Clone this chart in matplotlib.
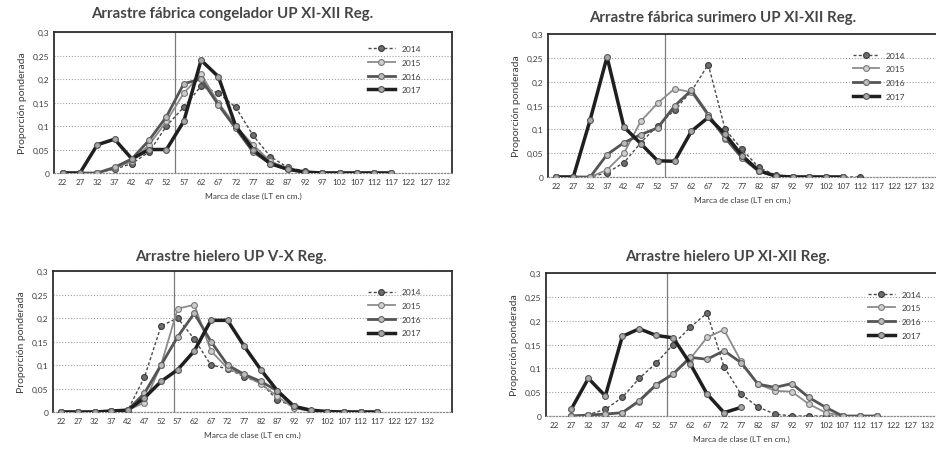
import numpy as np
import matplotlib
matplotlib.use("Agg")
import matplotlib.pyplot as plt

nan = np.nan

# class marks (LT en cm.)
marcas = [22, 27, 32, 37, 42, 47, 52, 57, 62, 67, 72, 77, 82, 87, 92, 97,
          102, 107, 112, 117, 122, 127, 132]
years = ["2014", "2015", "2016", "2017"]
y_ticks = [0, 0.05, 0.1, 0.15, 0.2, 0.25, 0.3]
y_labels = ["0", "0,05", "0,1", "0,15", "0,2", "0,25", "0,3"]

# Arrastre fabrica congelador UP XI-XII
cong_2014 = [0, 0, 0, 0.008, 0.02, 0.045, 0.1, 0.14, 0.185, 0.17, 0.14, 0.08,
             0.035, 0.012, 0.004, 0.001, 0, 0, 0, 0]
cong_2015 = [0, 0, 0, 0.01, 0.025, 0.06, 0.11, 0.17, 0.21, 0.15, 0.1, 0.06,
             0.025, 0.01, 0.003, 0.001, 0, 0, 0, 0]
cong_2016 = [0, 0, 0, 0.012, 0.03, 0.07, 0.12, 0.19, 0.2, 0.145, 0.095, 0.045,
             0.02, 0.008, 0.002, 0, 0, 0, 0, 0]
cong_2017 = [0, 0, 0.06, 0.072, 0.03, 0.05, 0.05, 0.11, 0.24, 0.205, 0.1, 0.05,
             0.02, 0.008, 0.002, 0, 0, 0, 0, 0]

# Arrastre fabrica surimero UP XI-XII
sur_2014 = [0, 0, 0, 0.009, 0.03, 0.072, 0.108, 0.14, 0.18, 0.236, 0.1, 0.058,
            0.02, 0.004, 0.001, 0, 0, 0, 0]
sur_2015 = [0, 0, 0, 0.015, 0.05, 0.117, 0.155, 0.185, 0.178, 0.128, 0.08,
            0.045, 0.015, 0.003, 0.001, 0, 0, 0]
sur_2016 = [0, 0, 0, 0.047, 0.072, 0.089, 0.103, 0.149, 0.182, 0.131, 0.082,
            0.04, 0.012, 0.002, 0, 0, 0, 0]
sur_2017 = [0, 0, 0.12, 0.252, 0.105, 0.07, 0.034, 0.033, 0.096, 0.125, 0.09,
            0.045, 0.013, 0.002, 0, 0, 0, 0]

# Arrastre hielero UP V-X
hvx_2014 = [0, 0, 0, 0.002, 0.004, 0.074, 0.183, 0.2, 0.155, 0.1, 0.092, 0.075,
            0.062, 0.025, 0.012, 0.002, 0, 0, 0, 0]
hvx_2015 = [0, 0, 0, 0.002, 0.004, 0.02, 0.1, 0.22, 0.228, 0.13, 0.093, 0.078,
            0.06, 0.033, 0.008, 0.002, 0, 0, 0, 0]
hvx_2016 = [0, 0, 0, 0.002, 0.004, 0.04, 0.1, 0.16, 0.21, 0.15, 0.1, 0.08,
            0.065, 0.045, 0.012, 0.003, 0, 0, 0, 0]
hvx_2017 = [0, 0, 0, 0.002, 0.004, 0.03, 0.065, 0.09, 0.13, 0.195, 0.195, 0.14,
            0.09, 0.045, 0.012, 0.004, 0.001, 0, 0, 0]

# Arrastre hielero UP XI-XII
hxi_2014 = [nan, 0, 0.003, 0.014, 0.039, 0.079, 0.111, 0.15, 0.186, 0.216, 0.103,
            0.046, 0.019, 0.004, 0, 0, 0, 0, 0, 0]
hxi_2015 = [nan, 0, 0.002, 0.004, 0.007, 0.03, 0.064, 0.089, 0.12, 0.165, 0.181,
            0.115, 0.067, 0.053, 0.051, 0.025, 0.007, 0, 0, 0]
hxi_2016 = [nan, 0, 0.002, 0.004, 0.007, 0.032, 0.066, 0.088, 0.123, 0.119,
            0.137, 0.112, 0.067, 0.06, 0.068, 0.039, 0.018, 0, 0, 0]
hxi_2017 = [nan, 0.015, 0.079, 0.042, 0.167, 0.183, 0.169, 0.164, 0.11, 0.046,
            0.007, 0.018]

PANELS = [
    ("Arrastre fábrica congelador UP XI-XII Reg.",
     [cong_2014, cong_2015, cong_2016, cong_2017]),
    ("Arrastre fábrica surimero UP XI-XII Reg.",
     [sur_2014, sur_2015, sur_2016, sur_2017]),
    ("Arrastre hielero UP V-X Reg.",
     [hvx_2014, hvx_2015, hvx_2016, hvx_2017]),
    ("Arrastre hielero UP XI-XII Reg.",
     [hxi_2014, hxi_2015, hxi_2016, hxi_2017]),
]

# layout in pixels: left, top, right, bottom ; xlim right ; vertical line pos
FRAMES = [
    (54, 33, 452, 174, 22.5, 6.5),
    (548, 35, 936, 178, 22.5, 6.45),
    (53, 272, 452, 413, 23.5, 6.75),
    (546, 274, 936, 417, 22.5, 6.65),
]
# title centre in pixels
TITLE_XY = [(232, 14), (723, 18), (231, 257), (728, 257)]
LEGEND_POS = [(0.93, 0.93), (0.93, 0.9), (0.93, 0.9), (0.97, 0.9)]
CUT_RIGHT = [False, True, False, True]

STYLES = [
    dict(color="#4a4a4a", lw=1.0, ls=(0, (2.2, 1.6)), mfc="#6e6e6e", mec="#3a3a3a"),
    dict(color="#8c8c8c", lw=1.3, ls="-", mfc="#cfcfcf", mec="#7a7a7a"),
    dict(color="#555555", lw=2.0, ls="-", mfc="#bdbdbd", mec="#666666"),
    dict(color="#1f1f1f", lw=2.5, ls="-", mfc="#a8a8a8", mec="#555555"),
]

W, H = 937, 452
TEXT = "#3c3c3c"
plt.rcParams["font.family"] = ["Lato", "DejaVu Sans"]

fig = plt.figure(figsize=(W / 100, H / 100), dpi=100)
fig.patch.set_facecolor("white")

x = np.arange(len(marcas))
for (title, series), (l, t, r, b, xr, vline), (tx, ty), lpos, cut in zip(
        PANELS, FRAMES, TITLE_XY, LEGEND_POS, CUT_RIGHT):
    ax = fig.add_axes([l / W, 1 - b / H, (r - l) / W, (b - t) / H])
    ax.set_xlim(-0.5, xr)
    ax.set_ylim(0, 0.3)
    ax.yaxis.grid(True, linestyle=(0, (1, 1.6)), color="#a0a0a0", lw=0.8)
    ax.set_axisbelow(True)
    ax.axvline(vline, color="#7a7a7a", lw=0.9, zorder=1)

    for year, vals, st in zip(years, series, STYLES):
        n = len(vals)
        ax.plot(x[:n], vals, color=st["color"], lw=st["lw"], ls=st["ls"],
                marker="o", ms=4.2, mfc=st["mfc"], mec=st["mec"], mew=0.8,
                label=year, zorder=3)

    ax.set_xticks(x)
    ax.set_xticklabels([str(m) for m in marcas], fontsize=5.8, color=TEXT)
    ax.set_yticks(y_ticks)
    ax.set_yticklabels(y_labels, fontsize=6, color=TEXT)
    ax.tick_params(length=0, pad=3.5)
    for side in ["top", "left", "right"]:
        ax.spines[side].set_color("#2e2e2e")
        ax.spines[side].set_linewidth(1.3)
    ax.spines["right"].set_linestyle((0, (1.5, 1)))
    ax.spines["right"].set_visible(not cut)
    ax.spines["bottom"].set_color("#8a8a8a")
    ax.spines["bottom"].set_linestyle((0, (1, 1.6)))
    ax.spines["bottom"].set_linewidth(0.9)

    fig.text(tx / W, 1 - ty / H, title, fontsize=10.8, fontweight="bold",
             color="#454545", ha="center", va="center")
    ax.set_ylabel("Proporción ponderada", fontsize=7.5, color=TEXT, labelpad=4)
    ax.set_xlabel("Marca de clase (LT en cm.)", fontsize=6, color=TEXT, labelpad=5)

    leg = ax.legend(loc="upper right", bbox_to_anchor=lpos, frameon=False,
                    fontsize=6, handlelength=3.2, labelspacing=0.8,
                    borderaxespad=0)
    for txt in leg.get_texts():
        txt.set_color(TEXT)

fig.savefig("out.png", dpi=100, facecolor="white")
plt.close(fig)
